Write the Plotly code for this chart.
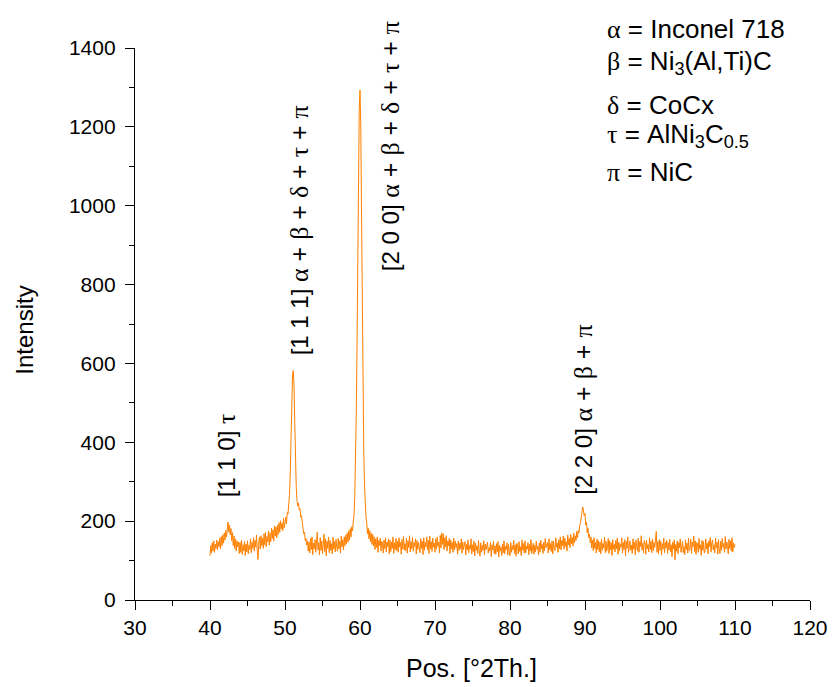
import numpy as np
import plotly.graph_objects as go

# XRD scan: 2-theta from 40 to 110 deg in 0.1 deg steps
SCAN_START = 40.0
SCAN_STEP = 0.1

# Intensity counts, one row per degree (N.0 ... N.9)
INTENSITY = [
    112, 138, 119, 145, 124, 150, 121, 142, 131, 152,   # 40
    127, 148, 135, 157, 130, 161, 138, 165, 144, 170,   # 41
    152, 176, 160, 185, 198, 172, 190, 165, 181, 150,   # 42
    171, 138, 162, 130, 155, 124, 150, 135, 147, 118,   # 43
    146, 121, 152, 116, 140, 125, 148, 113, 142, 122,   # 44
    150, 117, 139, 128, 155, 120, 146, 131, 158, 124,   # 45
    151, 134, 165, 126, 103, 145, 160, 129, 163, 138,   # 46
    157, 131, 168, 140, 172, 135, 161, 147, 175, 139,   # 47
    170, 148, 182, 156, 178, 150, 188, 162, 185, 158,   # 48
    190, 166, 196, 172, 201, 180, 195, 176, 207, 183,   # 49
    201, 210, 193, 222, 218, 240, 268, 322, 412, 505,   # 50
    568, 582, 545, 450, 348, 286, 252, 238, 246, 228,   # 51
    232, 210, 214, 188, 182, 168, 172, 150, 156, 139,   # 52
    150, 124, 147, 119, 156, 128, 160, 115, 144, 130,   # 53
    153, 121, 149, 172, 127, 145, 114, 158, 126, 150,   # 54
    118, 146, 167, 123, 155, 112, 149, 131, 160, 120,   # 55
    151, 126, 143, 117, 159, 129, 148, 122, 154, 133,   # 56
    124, 157, 130, 150, 119, 162, 135, 153, 127, 160,   # 57
    138, 165, 142, 170, 147, 176, 152, 181, 160, 186,   # 58
    175, 198, 214, 262, 334, 470, 640, 895, 1135, 1245, # 59
    1293, 1205, 990, 715, 515, 378, 292, 240, 210, 195, # 60
    168, 182, 155, 176, 148, 170, 141, 166, 137, 160,   # 61
    128, 155, 133, 160, 121, 151, 138, 157, 124, 149,   # 62
    146, 119, 152, 130, 158, 122, 147, 135, 155, 117,   # 63
    152, 123, 147, 131, 160, 118, 145, 128, 156, 125,   # 64
    149, 121, 158, 134, 146, 116, 153, 129, 161, 127,   # 65
    143, 125, 157, 119, 150, 133, 163, 122, 148, 130,   # 66
    159, 124, 145, 136, 155, 117, 151, 128, 147, 132,   # 67
    120, 156, 131, 149, 115, 158, 126, 146, 135, 160,   # 68
    127, 151, 118, 162, 130, 148, 123, 157, 134, 144,   # 69
    121, 155, 129, 160, 136, 147, 119, 164, 132, 170,   # 70
    141, 168, 128, 158, 135, 163, 124, 150, 138, 156,   # 71
    118, 152, 130, 146, 121, 157, 127, 149, 133, 143,   # 72
    116, 150, 125, 144, 130, 155, 119, 147, 128, 139,   # 73
    148, 114, 141, 127, 152, 120, 138, 129, 155, 117,   # 74
    140, 123, 149, 112, 144, 126, 137, 118, 151, 124,   # 75
    111, 145, 121, 139, 126, 150, 115, 142, 128, 136,   # 76
    147, 119, 133, 124, 146, 110, 140, 127, 149, 118,   # 77
    137, 116, 143, 122, 148, 109, 139, 125, 134, 113,   # 78
    142, 120, 150, 117, 136, 128, 145, 114, 141, 124,   # 79
    112, 146, 121, 138, 127, 151, 118, 140, 111, 144,   # 80
    139, 117, 148, 123, 135, 113, 152, 126, 143, 119,   # 81
    150, 120, 137, 129, 146, 115, 141, 124, 153, 118,   # 82
    127, 144, 116, 139, 122, 149, 128, 136, 114, 145,   # 83
    121, 152, 130, 141, 118, 147, 125, 156, 133, 140,   # 84
    146, 119, 155, 128, 143, 123, 150, 117, 149, 131,   # 85
    125, 158, 134, 145, 121, 153, 130, 160, 127, 151,   # 86
    138, 162, 129, 157, 136, 148, 124, 165, 140, 156,   # 87
    133, 166, 142, 159, 137, 170, 145, 163, 151, 174,   # 88
    158, 176, 170, 190, 194, 210, 220, 236, 226, 214,   # 89
    219, 190, 198, 170, 182, 158, 167, 145, 160, 132,   # 90
    152, 125, 158, 131, 146, 119, 155, 128, 150, 122,   # 91
    147, 117, 154, 126, 143, 132, 159, 120, 149, 124,   # 92
    135, 156, 118, 150, 127, 145, 113, 153, 129, 141,   # 93
    122, 151, 130, 157, 116, 147, 125, 142, 134, 158,   # 94
    119, 146, 128, 153, 112, 149, 131, 160, 121, 143,   # 95
    150, 126, 139, 118, 155, 129, 147, 115, 152, 133,   # 96
    124, 157, 121, 148, 136, 163, 127, 144, 119, 151,   # 97
    145, 116, 152, 130, 141, 122, 158, 128, 149, 120,   # 98
    155, 125, 146, 133, 150, 174, 121, 148, 117, 153,   # 99
    126, 149, 114, 143, 129, 157, 120, 146, 132, 151,   # 100
    118, 145, 127, 154, 122, 140, 110, 147, 130, 152,   # 101
    102, 141, 124, 150, 117, 146, 133, 155, 121, 143,   # 102
    149, 120, 136, 115, 152, 128, 144, 119, 157, 125,   # 103
    131, 154, 118, 147, 135, 162, 123, 150, 116, 146,   # 104
    142, 121, 156, 129, 140, 113, 151, 126, 148, 119,   # 105
    124, 155, 130, 144, 117, 150, 136, 158, 122, 145,   # 106
    152, 127, 140, 119, 157, 132, 147, 116, 153, 128,   # 107
    118, 149, 126, 156, 134, 143, 121, 161, 129, 147,   # 108
    139, 117, 154, 131, 150, 124, 158, 122, 145, 133,   # 109
    141,                                                # 110
]

two_theta = np.round(SCAN_START + SCAN_STEP * np.arange(len(INTENSITY)), 2)

# Peak assignments: reflection, phases, label position (2-theta, intensity at label base)
PEAK_HKL = ["[1 1 0]", "[1 1 1]", "[2 0 0]", "[2 2 0]"]
PEAK_PHASES = [["τ"], ["α", "β", "δ", "τ", "π"], ["α", "β", "δ", "τ", "π"], ["α", "β", "π"]]
PEAK_LABEL_X = [42.2, 51.9, 64.0, 89.7]
PEAK_LABEL_Y = [254, 616, 829, 261]

# Phase key
KEY_SYMBOLS = ["α", "β", "δ", "τ", "π"]
KEY_PHASES = ["Inconel 718", "Ni<sub>3</sub>(Al,Ti)C", "CoCx",
              "AlNi<sub>3</sub>C<sub>0.5</sub>", "NiC"]

X_TICKS = list(range(30, 121, 10))
Y_TICKS = list(range(0, 1401, 200))

SANS = "Liberation Sans, Arial, sans-serif"
SERIF = "Liberation Serif, Times New Roman, serif"


def greek(ch, size):
    return f"<span style='font-family:{SERIF};font-size:{size}px'>{ch}</span>"


def plus(size):
    return f"<span style='font-size:{size}px'> + </span>"


fig = go.Figure()
fig.add_trace(go.Scatter(
    x=two_theta, y=INTENSITY, mode="lines",
    line=dict(color="#FF8000", width=1),
    showlegend=False, hoverinfo="skip",
))

annotations = []
for hkl, phases, lx, ly in zip(PEAK_HKL, PEAK_PHASES, PEAK_LABEL_X, PEAK_LABEL_Y):
    phase_txt = plus(25).join(greek(p, 26) for p in phases)
    annotations.append(dict(
        x=lx, y=ly, xref="x", yref="y", text=f"{hkl} {phase_txt}",
        textangle=-90, showarrow=False, xanchor="center", yanchor="bottom",
        font=dict(family=SANS, size=24, color="black"),
    ))

key_y = [1.0353, 0.9737, 0.8976, 0.8415, 0.7745]
for sym, phase, ky in zip(KEY_SYMBOLS, KEY_PHASES, key_y):
    annotations.append(dict(
        x=0.697, y=ky, xref="paper", yref="paper",
        text=f"{greek(sym, 26)} = {phase}", showarrow=False,
        xanchor="left", yanchor="middle",
        font=dict(family=SANS, size=26, color="black"),
    ))

# Axis titles
annotations.append(dict(
    x=-0.165, y=0.489, xref="paper", yref="paper", text="Intensity",
    textangle=-90, showarrow=False, xanchor="center", yanchor="middle",
    font=dict(family=SANS, size=24, color="black"),
))
annotations.append(dict(
    x=0.4985, y=-0.123, xref="paper", yref="paper", text="Pos. [°2Th.]",
    showarrow=False, xanchor="center", yanchor="middle",
    font=dict(family=SANS, size=25, color="black"),
))

axis_common = dict(
    showline=True, linecolor="black", linewidth=1.3,
    showgrid=False, zeroline=False, mirror=False,
    ticks="outside", ticklen=9, tickwidth=1.3, tickcolor="black",
    tickfont=dict(family=SANS, size=21, color="black"),
)

fig.update_layout(
    width=840, height=687,
    margin=dict(l=135, r=19, t=48, b=87),
    paper_bgcolor="white", plot_bgcolor="white",
    xaxis=dict(range=[30, 120], tickvals=X_TICKS,
               minor=dict(dtick=5, ticks="outside", ticklen=5, tickwidth=1.3, tickcolor="black"),
               **axis_common),
    yaxis=dict(range=[0, 1400], tickvals=Y_TICKS, ticklabelstandoff=5,
               minor=dict(dtick=100, ticks="outside", ticklen=5, tickwidth=1.3, tickcolor="black"),
               **axis_common),
    annotations=annotations,
)

fig.write_html("out.html")
